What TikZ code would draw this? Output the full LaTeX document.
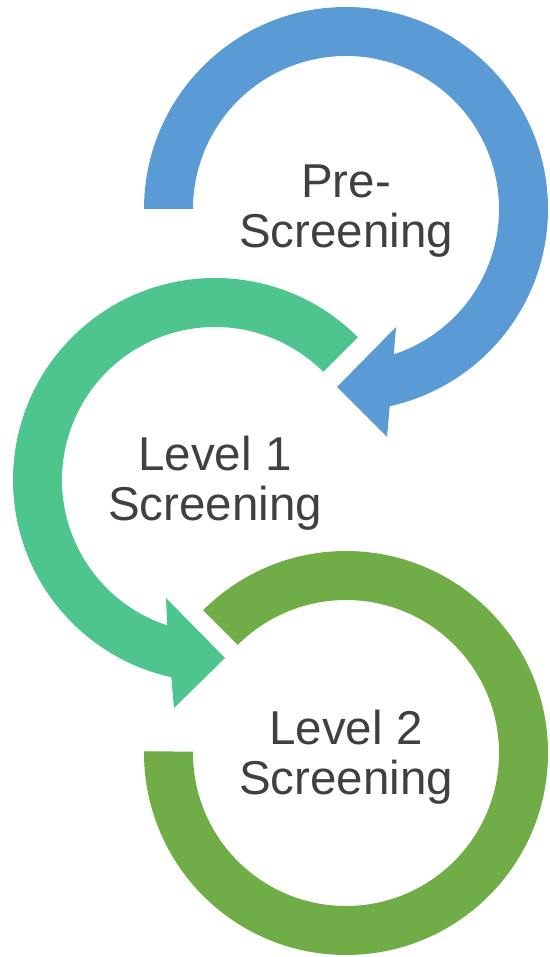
\documentclass[tikz,border=0pt]{standalone}
\usepackage{fontspec}
\setmainfont{Liberation Sans}
\usetikzlibrary{calc}
\definecolor{cblue}{HTML}{5B9BD5}
\definecolor{cteal}{HTML}{4EC48E}
\definecolor{cgreen}{HTML}{70AD47}
\definecolor{ctext}{HTML}{404040}
\tikzset{
  lbl/.style={align=center, text=ctext, inner sep=0pt, font=\fontsize{47.5}{50}\selectfont}
}
\begin{document}
\begin{tikzpicture}[x=1pt,y=1pt,yscale=-1]
\useasboundingbox (0,0) rectangle (549,957);
\coordinate (c1) at (346,209);
\coordinate (c2) at (215,480);
\coordinate (c3) at (346,753);
% blue circular arrow
\fill[cblue] ($(c1)+(180:202)$) arc[start angle=180, end angle=437.5, radius=202pt]
  -- (387,437) -- (337,387) -- (396,327)
  -- ($(c1)+(431.8:153)$) arc[start angle=431.8, end angle=180, radius=153pt] -- cycle;
% teal circular arrow
\fill[cteal] ($(c2)+(315:202)$) arc[start angle=315, end angle=102.5, radius=202pt]
  -- (174,708) -- (225,658) -- (166,598)
  -- ($(c2)+(108.2:153)$) arc[start angle=108.2, end angle=315, radius=153pt] -- cycle;
% green circular band
\fill[cgreen] ($(c3)+(225:202)$) arc[start angle=225, end angle=540.5, radius=202pt]
  -- ($(c3)+(540.5:153)$) arc[start angle=540.5, end angle=225, radius=153pt] -- cycle;
\node[lbl] (t1) at (346,211) {Pre-\\Screening};
\node[lbl] (t2) at (215,483) {Level 1\\Screening};
\node[lbl] (t3) at (346,757) {Level 2\\Screening};
\end{tikzpicture}
\end{document}
